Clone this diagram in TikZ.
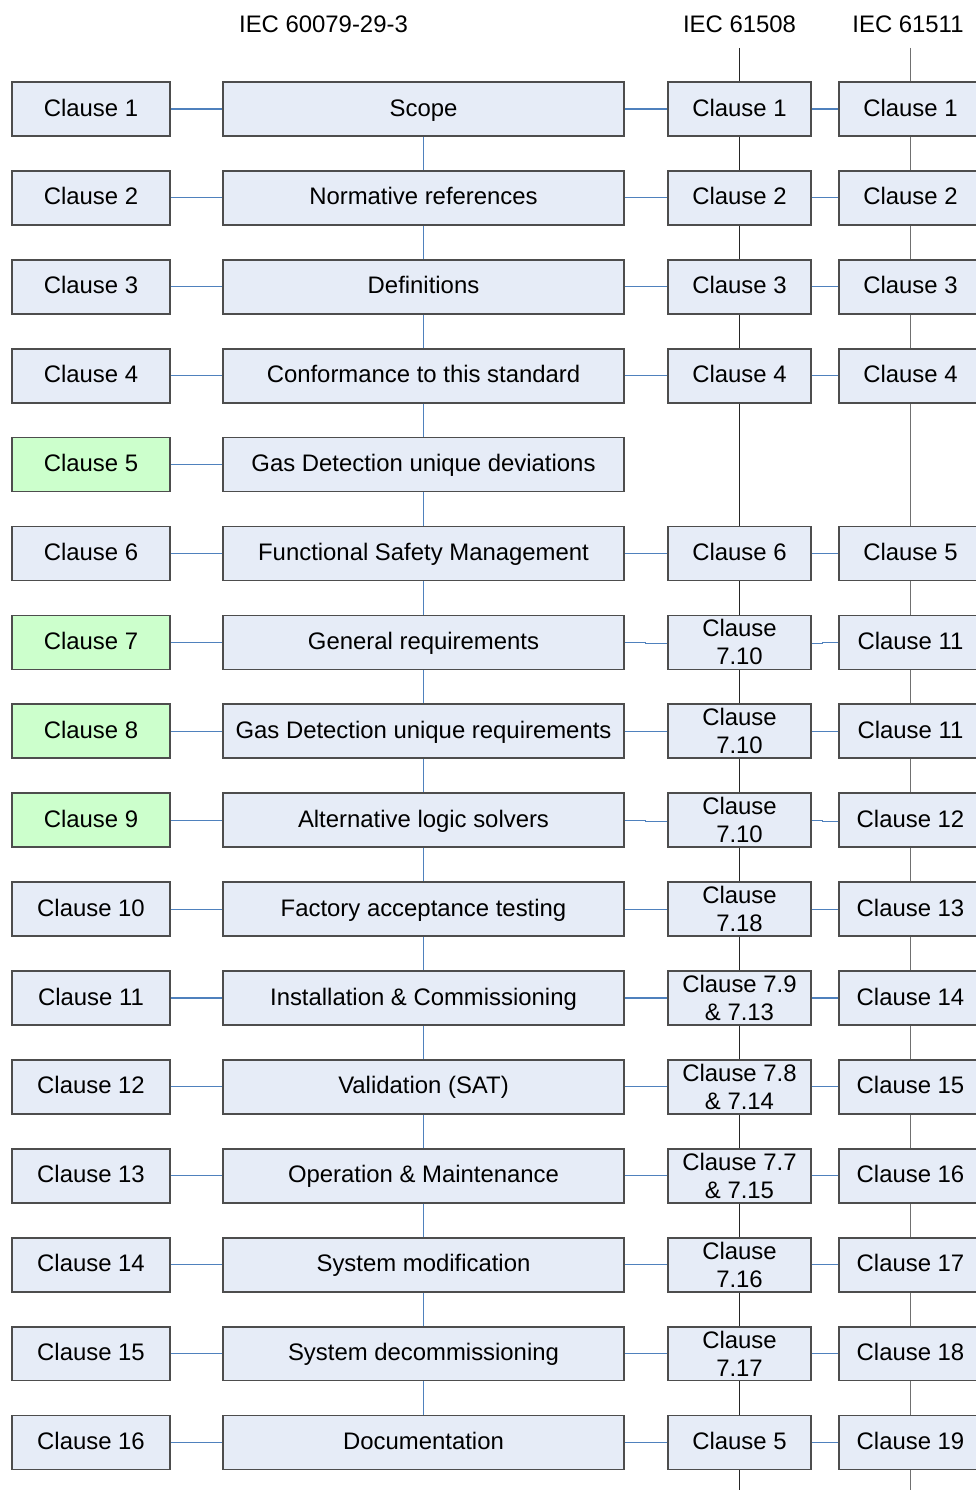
\documentclass[tikz,border=0pt]{standalone}
\usepackage{fontspec}
\setmainfont{Liberation Sans}

\definecolor{boxfill}{RGB}{230,236,247}
\definecolor{gdgreen}{RGB}{204,255,204}
\definecolor{boxline}{RGB}{77,77,77}
\definecolor{linkblue}{RGB}{79,129,189}
\definecolor{lanegray}{RGB}{112,112,112}

\tikzset{
  clause/.style={draw=boxline, fill=boxfill, line width=1pt, minimum height=1.08cm,
    inner sep=0pt, align=center, font=\fontsize{13.6}{15.9}\selectfont},
  oneline/.style={text height=10.5pt, text depth=2.5pt},
  leftcl/.style={clause, oneline, minimum width=3.16cm},
  topic/.style={clause, oneline, minimum width=8.02cm},
  partcl/.style={clause, oneline, minimum width=2.86cm},
  twocl/.style={clause, minimum width=2.86cm},
  newcl/.style={fill=gdgreen},
  header/.style={font=\fontsize{13.6}{15.9}\selectfont, inner sep=0pt},
  link/.style={draw=linkblue, line width=0.6pt},
  laneA/.style={draw=black!85, line width=0.7pt},
  laneB/.style={draw=lanegray, line width=0.8pt},
}

\begin{document}
\begin{tikzpicture}[x=0.02cm, y=-0.02cm]
  \useasboundingbox (0,0) rectangle (976,1490);

  \node[header] (hdM) at (323.5,24) {IEC 60079-29-3};
  \node[header] (hdA) at (739.5,24) {IEC 61508};
  \node[header] (hdB) at (908,24) {IEC 61511};

  \coordinate (topA) at (739.5,48);
  \coordinate (topB) at (910.5,48);
  \coordinate (botA) at (739.5,1490);
  \coordinate (botB) at (910.5,1490);

  \node[leftcl] (L1) at (91,109) {Clause 1};
  \node[topic]  (M1) at (423.5,109) {Scope};
  \node[partcl] (A1) at (739.5,109) {Clause 1};
  \node[partcl] (B1) at (910.5,109) {Clause 1};

  \node[leftcl] (L2) at (91,197.9) {Clause 2};
  \node[topic]  (M2) at (423.5,197.9) {Normative references};
  \node[partcl] (A2) at (739.5,197.9) {Clause 2};
  \node[partcl] (B2) at (910.5,197.9) {Clause 2};

  \node[leftcl] (L3) at (91,286.8) {Clause 3};
  \node[topic]  (M3) at (423.5,286.8) {Definitions};
  \node[partcl] (A3) at (739.5,286.8) {Clause 3};
  \node[partcl] (B3) at (910.5,286.8) {Clause 3};

  \node[leftcl] (L4) at (91,375.7) {Clause 4};
  \node[topic]  (M4) at (423.5,375.7) {Conformance to this standard};
  \node[partcl] (A4) at (739.5,375.7) {Clause 4};
  \node[partcl] (B4) at (910.5,375.7) {Clause 4};

  \node[leftcl,newcl] (L5) at (91,464.6) {Clause 5};
  \node[topic]  (M5) at (423.5,464.6) {Gas Detection unique deviations};

  \node[leftcl] (L6) at (91,553.5) {Clause 6};
  \node[topic]  (M6) at (423.5,553.5) {Functional Safety Management};
  \node[partcl] (A6) at (739.5,553.5) {Clause 6};
  \node[partcl] (B6) at (910.5,553.5) {Clause 5};

  \node[leftcl,newcl] (L7) at (91,642.4) {Clause 7};
  \node[topic]  (M7) at (423.5,642.4) {General requirements};
  \node[twocl]  (A7) at (739.5,642.4) {Clause\\7.10};
  \node[partcl] (B7) at (910.5,642.4) {Clause 11};

  \node[leftcl,newcl] (L8) at (91,731.3) {Clause 8};
  \node[topic]  (M8) at (423.5,731.3) {Gas Detection unique requirements};
  \node[twocl]  (A8) at (739.5,731.3) {Clause\\7.10};
  \node[partcl] (B8) at (910.5,731.3) {Clause 11};

  \node[leftcl,newcl] (L9) at (91,820.2) {Clause 9};
  \node[topic]  (M9) at (423.5,820.2) {Alternative logic solvers};
  \node[twocl]  (A9) at (739.5,820.2) {Clause\\7.10};
  \node[partcl] (B9) at (910.5,820.2) {Clause 12};

  \node[leftcl] (L10) at (91,909.1) {Clause 10};
  \node[topic]  (M10) at (423.5,909.1) {Factory acceptance testing};
  \node[twocl]  (A10) at (739.5,909.1) {Clause\\7.18};
  \node[partcl] (B10) at (910.5,909.1) {Clause 13};

  \node[leftcl] (L11) at (91,998) {Clause 11};
  \node[topic]  (M11) at (423.5,998) {Installation \& Commissioning};
  \node[twocl]  (A11) at (739.5,998) {Clause 7.9\\\& 7.13};
  \node[partcl] (B11) at (910.5,998) {Clause 14};

  \node[leftcl] (L12) at (91,1086.9) {Clause 12};
  \node[topic]  (M12) at (423.5,1086.9) {Validation (SAT)};
  \node[twocl]  (A12) at (739.5,1086.9) {Clause 7.8\\\& 7.14};
  \node[partcl] (B12) at (910.5,1086.9) {Clause 15};

  \node[leftcl] (L13) at (91,1175.8) {Clause 13};
  \node[topic]  (M13) at (423.5,1175.8) {Operation \& Maintenance};
  \node[twocl]  (A13) at (739.5,1175.8) {Clause 7.7\\\& 7.15};
  \node[partcl] (B13) at (910.5,1175.8) {Clause 16};

  \node[leftcl] (L14) at (91,1264.7) {Clause 14};
  \node[topic]  (M14) at (423.5,1264.7) {System modification};
  \node[twocl]  (A14) at (739.5,1264.7) {Clause\\7.16};
  \node[partcl] (B14) at (910.5,1264.7) {Clause 17};

  \node[leftcl] (L15) at (91,1353.6) {Clause 15};
  \node[topic]  (M15) at (423.5,1353.6) {System decommissioning};
  \node[twocl]  (A15) at (739.5,1353.6) {Clause\\7.17};
  \node[partcl] (B15) at (910.5,1353.6) {Clause 18};

  \node[leftcl] (L16) at (91,1442.5) {Clause 16};
  \node[topic]  (M16) at (423.5,1442.5) {Documentation};
  \node[partcl] (A16) at (739.5,1442.5) {Clause 5};
  \node[partcl] (B16) at (910.5,1442.5) {Clause 19};

  % lanes of the two parent standards
  \draw[laneA] (topA) -- (A1) (A1) -- (A2) (A2) -- (A3) (A3) -- (A4) (A4) -- (A6)
    (A6) -- (A7) (A7) -- (A8) (A8) -- (A9) (A9) -- (A10) (A10) -- (A11) (A11) -- (A12)
    (A12) -- (A13) (A13) -- (A14) (A14) -- (A15) (A15) -- (A16) (A16) -- (botA);
  \draw[laneB] (topB) -- (B1) (B1) -- (B2) (B2) -- (B3) (B3) -- (B4) (B4) -- (B6)
    (B6) -- (B7) (B7) -- (B8) (B8) -- (B9) (B9) -- (B10) (B10) -- (B11) (B11) -- (B12)
    (B12) -- (B13) (B13) -- (B14) (B14) -- (B15) (B15) -- (B16) (B16) -- (botB);
  \draw[link] (M1) -- (M2) (M2) -- (M3) (M3) -- (M4) (M4) -- (M5) (M5) -- (M6)
    (M6) -- (M7) (M7) -- (M8) (M8) -- (M9) (M9) -- (M10) (M10) -- (M11) (M11) -- (M12)
    (M12) -- (M13) (M13) -- (M14) (M14) -- (M15) (M15) -- (M16);

  \draw[link] (L1) -- (M1) (M1) -- (A1) (A1) -- (B1);
  \draw[link] (L2) -- (M2) (M2) -- (A2) (A2) -- (B2);
  \draw[link] (L3) -- (M3) (M3) -- (A3) (A3) -- (B3);
  \draw[link] (L4) -- (M4) (M4) -- (A4) (A4) -- (B4);
  \draw[link] (L5) -- (M5);
  \draw[link] (L6) -- (M6) (M6) -- (A6) (A6) -- (B6);
  \draw[link] (L7) -- (M7);
  \draw[link] (M7.east) -- ++(21,0) |- ([yshift=-0.6pt]A7.west);
  \draw[link] ([yshift=-0.6pt]A7.east) -- ++(11,0) |- (B7.west);
  \draw[link] (L8) -- (M8) (M8) -- (A8) (A8) -- (B8);
  \draw[link] (L9) -- (M9);
  \draw[link] (M9.east) -- ++(21,0) |- ([yshift=-0.6pt]A9.west);
  \draw[link] (A9.east) -- ++(11,0) |- ([yshift=-0.8pt]B9.west);
  \draw[link] (L10) -- (M10) (M10) -- (A10) (A10) -- (B10);
  \draw[link] (L11) -- (M11) (M11) -- (A11) (A11) -- (B11);
  \draw[link] (L12) -- (M12) (M12) -- (A12) (A12) -- (B12);
  \draw[link] (L13) -- (M13) (M13) -- (A13) (A13) -- (B13);
  \draw[link] (L14) -- (M14) (M14) -- (A14) (A14) -- (B14);
  \draw[link] (L15) -- (M15) (M15) -- (A15) (A15) -- (B15);
  \draw[link] (L16) -- (M16) (M16) -- (A16) (A16) -- (B16);
\end{tikzpicture}
\end{document}
